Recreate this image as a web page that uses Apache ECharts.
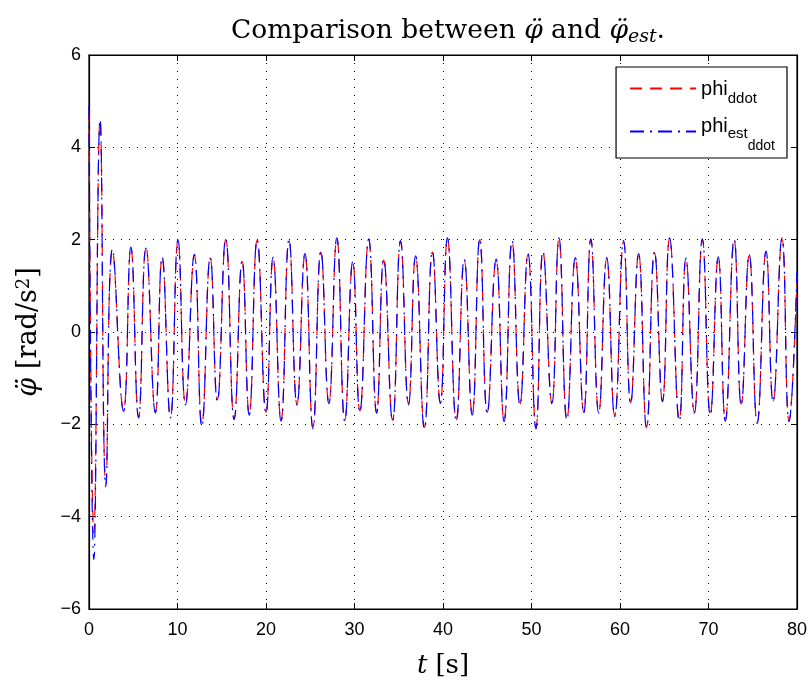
<!DOCTYPE html>
<html>
<head>
<meta charset="utf-8">
<script src="https://cdn.jsdelivr.net/npm/echarts@6/dist/echarts.min.js"></script>
<style>html,body{margin:0;padding:0;background:#fff;}#c{width:812px;height:684px;}</style>
</head>
<body>
<div id="c"></div>
<script>
// time stamps (s) of read extrema
const times = [0,0.55,1.25,1.9,2.65,3.9,4.73,5.6,6.44,7.5,
8.26,9.2,10.05,10.9,11.9,12.75,13.7,14.5,15.45,16.4,
17.3,18.1,19.0,20.0,20.8,21.7,22.6,23.5,24.4,25.3,
26.2,27.1,28.0,28.9,29.8,30.6,31.6,32.5,33.3,34.3,
35.2,36.1,36.9,37.9,38.8,39.7,40.5,41.5,42.4,43.3,
44.15,45.0,46.0,46.9,47.8,48.7,49.6,50.5,51.3,52.3,
53.1,54.0,54.95,55.9,56.7,57.6,58.5,59.4,60.4,61.2,
62.1,63.0,63.9,64.8,65.6,66.7,67.45,68.4,69.3,70.2,
71.1,71.9,72.9,73.7,74.6,75.5,76.5,77.3,78.3,79.1,
80];
// phi_ddot (red dashed)
const phiDdot = [4.8,-4.35,4.6,-3.3,1.76,-1.69,1.82,-1.84,1.84,-1.73,
1.61,-1.84,1.96,-1.56,1.66,-2.0,1.6,-1.47,2.0,-1.88,
1.53,-1.78,1.99,-1.74,1.6,-1.91,1.99,-1.56,1.68,-2.06,
1.73,-1.53,2.02,-1.91,1.5,-1.71,2.0,-1.74,1.56,-1.91,
1.96,-1.56,1.63,-2.06,1.73,-1.53,2.02,-1.91,1.56,-1.78,
2.0,-1.74,1.56,-1.92,1.96,-1.56,1.68,-2.06,1.73,-1.53,
2.02,-1.89,1.59,-1.74,2.0,-1.74,1.59,-1.81,1.96,-1.53,
1.68,-2.06,1.72,-1.49,2.02,-1.91,1.58,-1.74,2.0,-1.78,
1.61,-1.91,1.99,-1.56,1.66,-1.96,1.73,-1.49,2.02,-1.92,
1.2];
// phi_est_ddot (blue dash-dot)
const phiEstDdot = [4.9,-4.93,4.6,-3.35,1.8,-1.72,1.84,-1.86,1.82,-1.75,
1.63,-1.86,2.0,-1.58,1.68,-2.05,1.62,-1.5,2.02,-1.9,
1.55,-1.8,2.0,-1.76,1.62,-1.93,2.0,-1.58,1.7,-2.1,
1.75,-1.55,2.04,-1.93,1.52,-1.73,2.02,-1.76,1.58,-1.93,
1.98,-1.58,1.65,-2.1,1.75,-1.55,2.04,-1.93,1.58,-1.8,
2.02,-1.76,1.58,-1.94,1.98,-1.58,1.7,-2.1,1.75,-1.55,
2.04,-1.91,1.61,-1.76,2.02,-1.76,1.61,-1.83,1.98,-1.55,
1.7,-2.08,1.74,-1.51,2.04,-1.93,1.6,-1.76,2.02,-1.8,
1.63,-1.93,2.01,-1.58,1.68,-1.98,1.75,-1.51,2.04,-1.94,
1.3];
const xTicks = [0,10,20,30,40,50,60,70,80];
const yTicks = [-6,-4,-2,0,2,4,6];
const seriesNames = ['phi_ddot','phi_est_ddot'];

const chart = echarts.init(document.getElementById('c'), null, {renderer:'canvas'});
const serif = 'DejaVu Serif';
const sans = 'Liberation Sans';
const gridLine = {show:true, lineStyle:{color:'#000', type:[1,7], width:1}};
const fmtMinus = v => String(v).replace('-', '\u2212');
const axisCommon = {
  axisLine:{show:true, onZero:false, lineStyle:{color:'#000', width:1.2}},
  axisTick:{show:true, inside:true, length:6, lineStyle:{color:'#000', width:1}}
};

chart.setOption({
  backgroundColor:'#fff',
  animation:false,
  title:{
    text:'{a|Comparison between }{b|\u03c6\u0308}{a| and }{b|\u03c6\u0308}{c|est}{a|.}',
    left:226, top:11,
    textStyle:{
      fontWeight:'normal',
      rich:{
        a:{fontFamily:serif, fontSize:26.5, fontWeight:'normal', color:'#000'},
        b:{fontFamily:serif, fontSize:26.5, fontWeight:'normal', fontStyle:'italic', color:'#000'},
        c:{fontFamily:serif, fontSize:19, fontWeight:'normal', fontStyle:'italic', color:'#000', padding:[12,0,0,0], verticalAlign:'bottom'}
      }
    }
  },
  legend:{
    orient:'vertical', right:25, top:67,
    data:seriesNames,
    backgroundColor:'#fff', borderColor:'#000', borderWidth:1.2, borderRadius:0,
    padding:[2,12,4,13], itemGap:1, itemWidth:66, itemHeight:14,
    itemStyle:{opacity:0},
    formatter: n => n === 'phi_ddot' ? '{a|phi}{b|ddot}' : '{a2|phi}{b2|est}{c2|ddot}',
    textStyle:{
      rich:{
        a:{fontFamily:sans, fontSize:20, lineHeight:19, color:'#000', padding:[10,0,9,0], verticalAlign:'middle'},
        b:{fontFamily:sans, fontSize:15, lineHeight:15, color:'#000', padding:[22,0,1,0], verticalAlign:'middle'},
        a2:{fontFamily:sans, fontSize:20, lineHeight:19, color:'#000', padding:[7,0,18,0], verticalAlign:'middle'},
        b2:{fontFamily:sans, fontSize:15, lineHeight:15, color:'#000', padding:[17,0,12,0], verticalAlign:'middle'},
        c2:{fontFamily:sans, fontSize:14, lineHeight:14, color:'#000', padding:[30,0,0,0], verticalAlign:'middle'}
      }
    }
  },
  grid:{left:89, right:15, top:55, bottom:72, show:true, borderColor:'#000', borderWidth:1.2},
  xAxis:[Object.assign({
    type:'value', min:0, max:80, interval:10,
    axisLabel:{color:'#000', fontFamily:sans, fontSize:18, margin:12,
      formatter: v => xTicks.includes(v) ? String(v) : ''},
    splitLine:gridLine,
    name:'{i|t}{r|[s]}', nameLocation:'middle', nameGap:44,
    nameTextStyle:{rich:{
      i:{fontFamily:serif, fontStyle:'italic', fontSize:26, color:'#000', padding:[0,8,0,0]},
      r:{fontFamily:serif, fontSize:26, color:'#000'}
    }}
  }, axisCommon),Object.assign({
    type:'value', min:0, max:80, interval:10, position:'top',
    axisLabel:{show:false}, splitLine:{show:false}
  }, axisCommon)],
  yAxis:[Object.assign({
    type:'value', min:-6, max:6, interval:2,
    axisLabel:{color:'#000', fontFamily:sans, fontSize:18, margin:8,
      formatter: v => yTicks.includes(v) ? fmtMinus(v) : ''},
    splitLine:gridLine,
    name:'{b|\u03c6\u0308}{r|[rad/s}{s|2}{r|]}', nameLocation:'middle', nameGap:46, nameRotate:90,
    nameTextStyle:{rich:{
      b:{fontFamily:serif, fontStyle:'italic', fontSize:27, color:'#000', padding:[0,9,0,0]},
      r:{fontFamily:serif, fontSize:27, color:'#000'},
      s:{fontFamily:serif, fontSize:18, color:'#000', padding:[0,0,10,0], verticalAlign:'top'}
    }}
  }, axisCommon),Object.assign({
    type:'value', min:-6, max:6, interval:2, position:'right',
    axisLabel:{show:false}, splitLine:{show:false}
  }, axisCommon)],
  series:[{
    name:'phi_ddot', type:'line', smooth:true, symbol:'none',
    data: times.map((t,i)=>[t, phiDdot[i]]),
    lineStyle:{color:'#ff0000', width:1.2, type:[12,8]},
    itemStyle:{color:'#ff0000'}
  },{
    name:'phi_est_ddot', type:'line', smooth:true, symbol:'none',
    data: times.map((t,i)=>[t, phiEstDdot[i]]),
    lineStyle:{color:'#0000ff', width:1.2, type:[14,6,2,6]},
    itemStyle:{color:'#0000ff'}
  }]
});
</script>
</body>
</html>
